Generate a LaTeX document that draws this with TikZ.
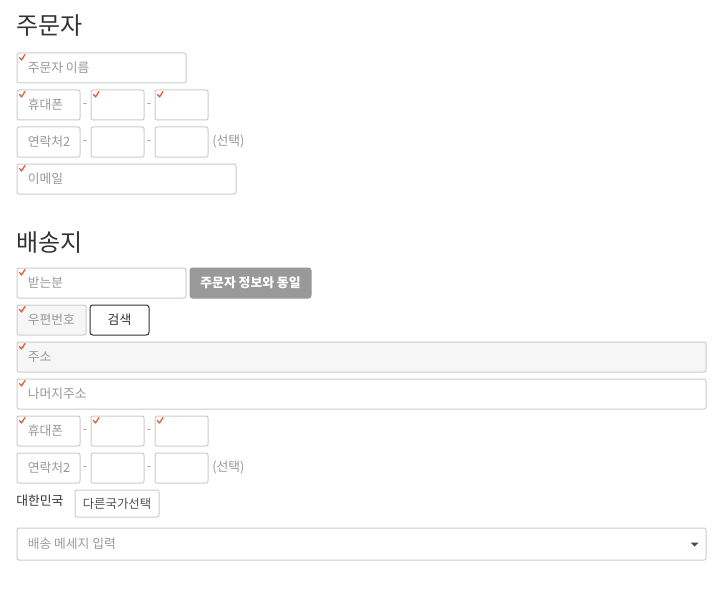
\documentclass[tikz,border=0pt]{standalone}
\usepackage{fontspec}
\setmainfont{Noto Sans CJK KR}
\definecolor{bd}{HTML}{CCCCCC}
\definecolor{phc}{HTML}{999999}
\definecolor{chk}{HTML}{E2572B}
\definecolor{ttlc}{HTML}{333333}
\definecolor{roc}{HTML}{F6F6F6}
\definecolor{btnc}{HTML}{999999}
\begin{document}
\begin{tikzpicture}[x=0.75pt,y=-0.75pt,
  fbox/.style={draw=bd, line width=0.75pt, rounded corners=1.5pt, inner sep=0pt, anchor=north west, fill=white},
  sz/.style 2 args={minimum width=#1*0.75pt-0.75pt, minimum height=#2*0.75pt-0.75pt},
  phtext/.style={text=phc, font=\fontsize{9.6}{12}\selectfont, anchor=west, inner sep=0pt},
  ttltext/.style={text=ttlc, font=\fontsize{18}{22}\selectfont, anchor=west, inner sep=0pt},
  dashtext/.style={text=phc, font=\fontsize{9.6}{12}\selectfont, anchor=center, inner sep=0pt},
  chkmark/.style={draw=chk, line width=0.9pt, line cap=round, line join=round}
]
\useasboundingbox[fill=white] (0,0) rectangle (723,599);
\newcommand{\chkat}[1]{\draw[chkmark] ([shift={(3,5)}]#1.north west) -- ++(2,2.5) -- ++(3.5,-5.5);}

% ===== 주문자 =====
\node[ttltext] (t1) at (16,26) {주문자};

\node[fbox, sz={170}{31}] (name) at (16.5,52.5) {};
\node[phtext] (namet) at ([xshift=11*0.75pt]name.west) {주문자 이름};
\chkat{name}

\node[fbox, sz={64}{31}] (p1a) at (16.5,89.5) {};
\node[phtext] (p1at) at ([xshift=11*0.75pt]p1a.west) {휴대폰};
\node[dashtext] (p1d1) at (85,105) {-};
\node[fbox, sz={54}{31}] (p1b) at (90.5,89.5) {};
\node[dashtext] (p1d2) at (149,105) {-};
\node[fbox, sz={54}{31}] (p1c) at (154.5,89.5) {};
\chkat{p1a}\chkat{p1b}\chkat{p1c}

\node[fbox, sz={64}{31}] (c1a) at (16.5,126.5) {};
\node[phtext] (c1at) at ([xshift=11*0.75pt]c1a.west) {연락처2};
\node[dashtext] (c1d1) at (85,142) {-};
\node[fbox, sz={54}{31}] (c1b) at (90.5,126.5) {};
\node[dashtext] (c1d2) at (149,142) {-};
\node[fbox, sz={54}{31}] (c1c) at (154.5,126.5) {};
\node[phtext] (c1opt) at (212,141) {(선택)};

\node[fbox, sz={220}{31}] (mail) at (16.5,163.5) {};
\node[phtext] (mailt) at ([xshift=11*0.75pt]mail.west) {이메일};
\chkat{mail}

% ===== 배송지 =====
\node[ttltext] (t2) at (16,243) {배송지};

\node[fbox, sz={170}{31}] (rcv) at (16.5,267.5) {};
\node[phtext] (rcvt) at ([xshift=11*0.75pt]rcv.west) {받는분};
\chkat{rcv}
\node[fbox, draw=btnc, fill=btnc, sz={122}{31}, rounded corners=2pt] (same) at (189.5,267.5) {};
\node[text=white, font=\fontsize{9.6}{12}\selectfont\bfseries, inner sep=0pt] (samet) at (same.center) {주문자 정보와 동일};

\node[fbox, fill=roc, sz={70}{31}] (zip) at (16.5,304.5) {};
\node[phtext] (zipt) at ([xshift=11*0.75pt]zip.west) {우편번호};
\chkat{zip}
\node[fbox, draw=ttlc, sz={60}{31}, rounded corners=2pt] (srch) at (89.5,304.5) {};
\node[text=ttlc, font=\fontsize{9.6}{12}\selectfont, inner sep=0pt] (srcht) at (srch.center) {검색};

\node[fbox, fill=roc, sz={690}{31}] (addr) at (16.5,341.5) {};
\node[phtext] (addrt) at ([xshift=11*0.75pt]addr.west) {주소};
\chkat{addr}

\node[fbox, sz={690}{31}] (addr2) at (16.5,378.5) {};
\node[phtext] (addr2t) at ([xshift=11*0.75pt]addr2.west) {나머지주소};
\chkat{addr2}

\node[fbox, sz={64}{31}] (p2a) at (16.5,415.5) {};
\node[phtext] (p2at) at ([xshift=11*0.75pt]p2a.west) {휴대폰};
\node[dashtext] (p2d1) at (85,431) {-};
\node[fbox, sz={54}{31}] (p2b) at (90.5,415.5) {};
\node[dashtext] (p2d2) at (149,431) {-};
\node[fbox, sz={54}{31}] (p2c) at (154.5,415.5) {};
\chkat{p2a}\chkat{p2b}\chkat{p2c}

\node[fbox, sz={64}{31}] (c2a) at (16.5,452.5) {};
\node[phtext] (c2at) at ([xshift=11*0.75pt]c2a.west) {연락처2};
\node[dashtext] (c2d1) at (85,468) {-};
\node[fbox, sz={54}{31}] (c2b) at (90.5,452.5) {};
\node[dashtext] (c2d2) at (149,468) {-};
\node[fbox, sz={54}{31}] (c2c) at (154.5,452.5) {};
\node[phtext] (c2opt) at (212,467) {(선택)};

\node[text=ttlc, font=\fontsize{9.6}{12}\selectfont, anchor=west, inner sep=0pt] (kr) at (16,501) {대한민국};
\node[fbox, sz={85}{28}] (other) at (74.5,489.5) {};
\node[text=ttlc!85, font=\fontsize{9.3}{12}\selectfont, inner sep=0pt] (othert) at (other.center) {다른국가선택};

\node[fbox, sz={690}{33}] (msg) at (16.5,527.5) {};
\node[phtext] (msgt) at ([xshift=11*0.75pt]msg.west) {배송 메세지 입력};
\fill[ttlc!90] ([shift={(-16,-1.5)}]msg.east) -- ++(8,0) -- ++(-4,4) -- cycle;
\end{tikzpicture}
\end{document}
